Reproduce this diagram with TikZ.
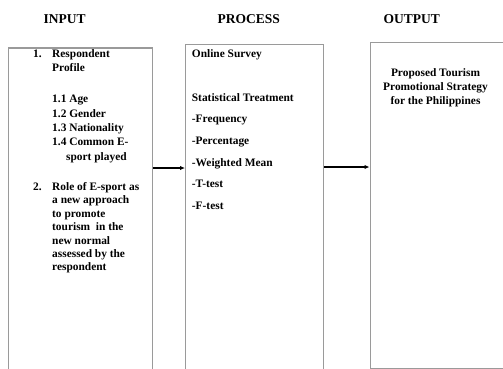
\documentclass[tikz,border=0pt]{standalone}
\usepackage{fontspec}
\setmainfont{Liberation Serif}
\usetikzlibrary{arrows.meta}
\definecolor{boxgray}{HTML}{9A9A9A}
\tikzset{
  panel/.style={draw=boxgray, line width=1.3pt, inner sep=0pt, anchor=north west},
  title/.style={font=\fontsize{13.5}{16}\selectfont\bfseries, anchor=base, inner sep=0pt},
  txt/.style={font=\fontsize{11.4}{13}\selectfont\bfseries, anchor=base west, inner sep=0pt},
  ctxt/.style={font=\fontsize{11.4}{13}\selectfont\bfseries, anchor=base, inner sep=0pt},
  flow/.style={line width=1.3pt, -{Latex[length=5pt,width=4.5pt]}}
}
\begin{document}
\begin{tikzpicture}[x=1pt,y=-1pt]
\useasboundingbox (0,0) rectangle (503,369);
% titles
\node[title] (tin) at (64.7,24) {INPUT};
\node[title] (tpr) at (248.7,24) {PROCESS};
\node[title] (tout) at (411.7,24) {OUTPUT};
% panels
\node[panel, minimum width=144pt, minimum height=340pt] (inbox) at (7.5,47.5) {};
\node[panel, minimum width=138pt, minimum height=340pt] (procbox) at (185,44) {};
\node[panel, minimum width=200pt, minimum height=326pt] (outbox) at (369.5,42) {};
% input text
\node[txt] (n1) at (33,57.5) {1.};
\node[txt] (i1) at (52,57.5) {Respondent};
\node[txt] (i2) at (52,71.5) {Profile};
\node[txt] (i3) at (52,102.7) {1.1 Age};
\node[txt] (i4) at (52,117) {1.2 Gender};
\node[txt] (i5) at (52,131.3) {1.3 Nationality};
\node[txt] (i6) at (52,145.6) {1.4 Common E-};
\node[txt] (i7) at (66,160) {sport played};
\node[txt] (n2) at (33,190) {2.};
\node[txt] (j1) at (52,190) {Role of E-sport as};
\node[txt] (j2) at (52,203.5) {a new approach};
\node[txt] (j3) at (52,217) {to promote};
\node[txt] (j4) at (52,230.5) {tourism\ \ in the};
\node[txt] (j5) at (52,244) {new normal};
\node[txt] (j6) at (52,257.4) {assessed by the};
\node[txt] (j7) at (52,270.8) {respondent};
% process text
\node[txt] (p1) at (191.7,58) {Online Survey};
\node[txt] (p2) at (191.7,101) {Statistical Treatment};
\node[txt] (p3) at (191.7,122.5) {-Frequency};
\node[txt] (p4) at (191.7,144.2) {-Percentage};
\node[txt] (p5) at (191.7,166) {-Weighted Mean};
\node[txt] (p6) at (191.7,187.7) {-T-test};
\node[txt] (p7) at (191.7,209.4) {-F-test};
% output text
\node[ctxt] (o1) at (435.5,76.7) {Proposed Tourism};
\node[ctxt] (o2) at (435.5,90.7) {Promotional Strategy};
\node[ctxt] (o3) at (435.5,104.7) {for the Philippines};
% arrows
\coordinate (ya) at (0,168);
\coordinate (yb) at (0,167);
\draw[flow] (inbox.east |- ya) -- (procbox.west |- ya);
\draw[flow] (procbox.east |- yb) -- (outbox.west |- yb);
\end{tikzpicture}
\end{document}
